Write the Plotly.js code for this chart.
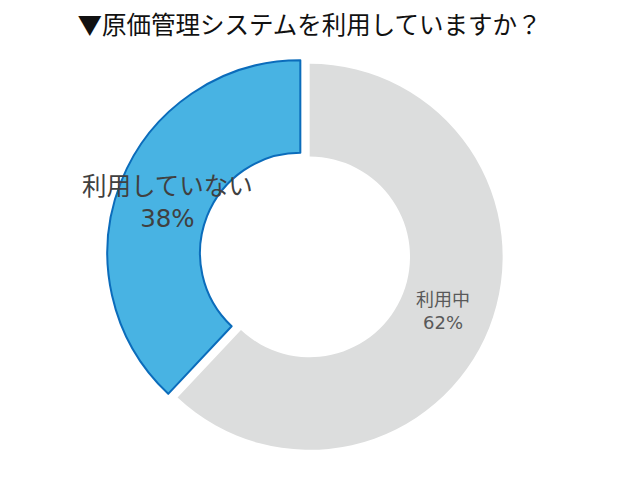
<!DOCTYPE html>
<html>
<head>
<meta charset="utf-8">
<script src="https://cdn.plot.ly/plotly-3.0.1.min.js"></script>
<style>
  body { margin: 0; background: #fff; }
  #pie { width: 619px; height: 500px; }
</style>
</head>
<body>
<div id="pie"></div>
<script>
var labels = ['利用中', '利用していない'];
var values = [62, 38];
var sliceColors = ['#dcdddd', '#48b3e3'];

var jpFont = '"Noto Sans CJK JP", sans-serif';
var labelFont = '"DejaVu Sans", "Noto Sans CJK JP", sans-serif';

var data = [{
    type: 'pie',
    values: values,
    labels: labels,
    sort: false,
    direction: 'clockwise',
    rotation: 0,
    hole: .52,
    pull: [0.026, 0.026],
    marker: {
        colors: sliceColors,
        line: { color: ['rgba(0,0,0,0)', '#0b6cbb'], width: [0, 2] }
    },
    // slice labels are annotations below, plotly would shrink the big one
    textinfo: 'none',
    hoverinfo: 'label+percent',
    showlegend: false
}];

function sliceLabel(i, x, y, size, color) {
    return {
        text: labels[i] + '<br>' + values[i] + '%',
        font: { family: labelFont, size: size, color: color },
        showarrow: false,
        xref: 'paper', yref: 'paper',
        x: x, y: y,
        xanchor: 'center', yanchor: 'middle'
    };
}

var layout = {
    width: 619,
    height: 500,
    margin: { l: 107, r: 116, t: 57, b: 47 },
    paper_bgcolor: '#ffffff',
    title: {
        text: '▼原価管理システムを利用していますか？',
        font: { family: jpFont, size: 24.5, color: '#111111' },
        x: 0.5,
        xref: 'container',
        y: 0.95,
        yref: 'container',
        yanchor: 'middle'
    },
    annotations: [
        sliceLabel(0, 0.848, 0.358, 18, '#595959'),
        sliceLabel(1, 0.154, 0.633, 24.5, '#404040')
    ]
};

Plotly.newPlot('pie', data, layout, { displayModeBar: false });
</script>
</body>
</html>
